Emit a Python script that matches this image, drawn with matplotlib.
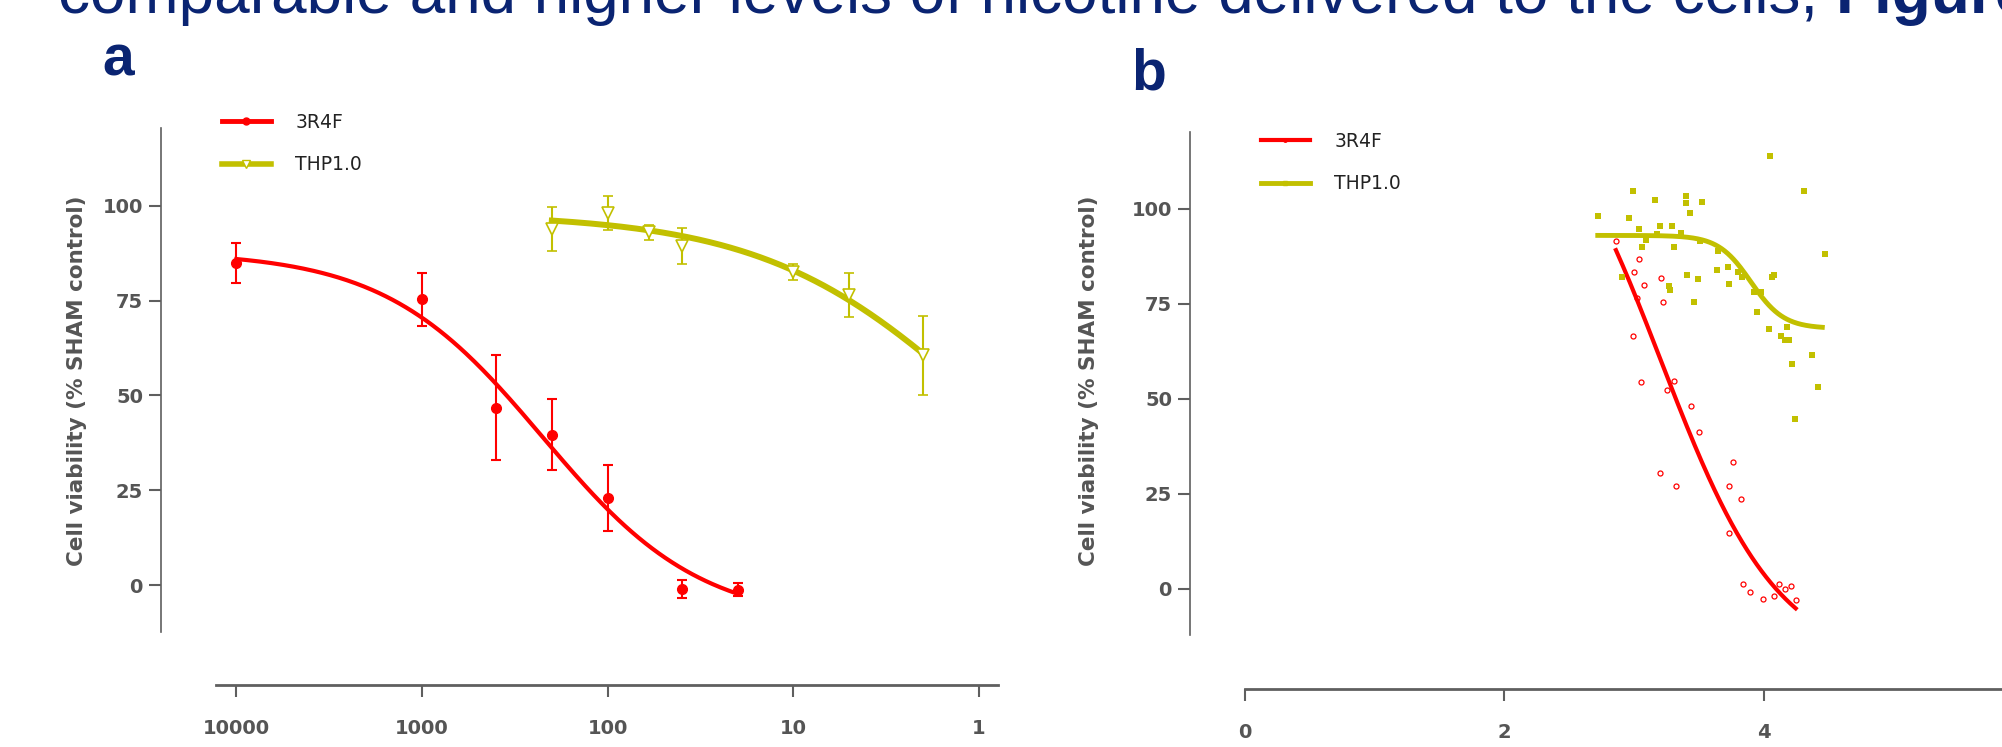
import numpy as np
import matplotlib.pyplot as plt
from matplotlib.lines import Line2D
from matplotlib.ticker import NullLocator

W, H, DPI = 2002, 747, 100
PT = DPI / 72.0

RED = '#ff0000'
OLIVE = '#c2c000'
NAVY = '#0a2472'
GREY = '#5f5f5f'

# panel a: dilution series, mean and SEM
conc_3r4f = [10000, 1000, 400, 200, 100, 40, 20]
via_3r4f = [85.0, 75.4, 46.8, 39.7, 23.0, -1.0, -1.3]
sem_3r4f = [5.2, 7.0, 13.8, 9.4, 8.7, 2.3, 1.7]

conc_thp = [200, 100, 60, 40, 10, 5, 2]
via_thp = [94.0, 98.2, 93.1, 89.4, 82.6, 76.6, 60.6]
sem_thp = [5.8, 4.5, 2.0, 4.7, 2.0, 5.8, 10.5]

# 4PL fits: top, bottom, logEC50, hill
fit_a_3r4f = (88, -10, 2.35, 1.02)
fit_a_thp = (98, 0, 0.011, 0.75)
range_a_3r4f = (20, 10000)
range_a_thp = (2, 200)

# panel b: single replicates
x_3r4f_b = [2.86, 3.04, 3.00, 3.21, 3.08, 3.02, 3.22, 2.99, 3.05, 3.31,
            3.25, 3.44, 3.50, 3.20, 3.32, 3.76, 3.73, 3.82, 3.73, 3.84,
            3.89, 3.99, 4.08, 4.12, 4.16, 4.21, 4.25]
y_3r4f_b = [91.5, 86.7, 83.3, 81.8, 80.0, 76.4, 75.4, 66.4, 54.4, 54.6,
            52.2, 48.0, 41.2, 30.4, 27.1, 33.3, 27.1, 23.7, 14.7, 1.2,
            -1.0, -2.8, -1.9, 1.1, -0.2, 0.8, -3.0]

x_thp_b = [4.05, 4.31, 2.99, 3.16, 3.40, 3.40, 3.52, 3.43, 2.72, 2.96,
           3.04, 3.20, 3.29, 3.36, 3.18, 3.09, 3.51, 3.06, 3.31, 3.65,
           3.64, 3.72, 3.80, 3.83, 3.41, 3.49, 2.91, 3.27, 3.28, 3.73,
           4.06, 4.08, 3.92, 3.98, 3.46, 3.95, 4.04, 4.18, 4.13, 4.16,
           4.19, 4.37, 4.22, 4.42, 4.24, 4.47]
y_thp_b = [113.8, 104.7, 104.6, 102.4, 103.3, 101.4, 101.7, 99.0, 98.0, 97.5,
           94.8, 95.6, 95.4, 93.5, 93.3, 91.9, 91.4, 89.9, 89.9, 88.8,
           83.9, 84.7, 83.3, 82.0, 82.7, 81.6, 82.0, 79.7, 78.5, 80.1,
           82.1, 82.7, 78.0, 78.1, 75.4, 72.8, 68.3, 68.8, 66.4, 65.5,
           65.5, 61.4, 59.1, 53.0, 44.7, 88.0]

fit_b_3r4f = (140, -20, 3.207, -0.955)
fit_b_thp = (93, 68.5, 3.9, -3.45)
range_b_3r4f = (2.86, 4.245)
range_b_thp = (2.72, 4.45)


def logistic(x, top, bottom, ec50, hill):
    return bottom + (top - bottom) / (1 + 10 ** ((ec50 - x) * hill))


def px_axes(fig, left, top, right, bottom):
    return fig.add_axes([left / W, 1 - bottom / H, (right - left) / W, (bottom - top) / H])


def style_axes(ax, x_off, y_off):
    for s in ['top', 'right']:
        ax.spines[s].set_visible(False)
    ax.spines['left'].set_position(('outward', y_off / PT))
    ax.spines['bottom'].set_position(('outward', x_off / PT))
    ax.spines['left'].set_linewidth(1.2)
    ax.spines['bottom'].set_linewidth(2.0)
    ax.spines['left'].set_color(GREY)
    ax.spines['bottom'].set_color(GREY)
    ax.tick_params(axis='y', length=9, width=1.5, color=GREY, pad=4,
                   labelsize=14, labelcolor='#555555')
    ax.tick_params(axis='x', length=8.5, width=1.5, color=GREY, pad=16,
                   labelsize=14, labelcolor='#555555')
    for lab in ax.get_xticklabels() + ax.get_yticklabels():
        lab.set_fontweight('bold')
    ax.set_yticks([0, 25, 50, 75, 100])
    ax.set_facecolor('none')


fig = plt.figure(figsize=(W / DPI, H / DPI), dpi=DPI)

# ---- panel a ----
ax_a = px_axes(fig, 216, 128.3, 998, 632)
ax_a.set_xscale('log')
ax_a.set_xlim(10 ** 4.11, 10 ** -0.102)
ax_a.set_ylim(-12.4, 120.5)

lx = np.linspace(np.log10(range_a_3r4f[0]), np.log10(range_a_3r4f[1]), 300)
ax_a.plot(10 ** lx, logistic(lx, *fit_a_3r4f), color=RED, lw=3, zorder=2)
lx = np.linspace(np.log10(range_a_thp[0]), np.log10(range_a_thp[1]), 300)
ax_a.plot(10 ** lx, logistic(lx, *fit_a_thp), color=OLIVE, lw=4.3, zorder=2)

ax_a.errorbar(conc_3r4f, via_3r4f, yerr=sem_3r4f, fmt='o', color=RED, ms=7,
              elinewidth=1.5, capsize=3.5, capthick=1.5, zorder=3)
ax_a.errorbar(conc_thp, via_thp, yerr=sem_thp, fmt='v', color=OLIVE, mfc='white',
              mec=OLIVE, ms=8, mew=1.2, elinewidth=1.5, capsize=3.5, capthick=1.5, zorder=3)

ax_a.set_xticks([10000, 1000, 100, 10, 1])
ax_a.set_xticklabels(['10000', '1000', '100', '10', '1'])
ax_a.xaxis.set_minor_locator(NullLocator())
style_axes(ax_a, 53.3, 55)

# ---- panel b ----
ax_b = px_axes(fig, 1244.7, 131.7, 2100, 635)
ax_b.set_xlim(0, (2100 - 1244.7) / 129.8)
ax_b.set_ylim(-12.2, 120.3)

xs = np.linspace(*range_b_thp, 300)
ax_b.plot(xs, logistic(xs, *fit_b_thp), color=OLIVE, lw=3.5, zorder=2)
xs = np.linspace(*range_b_3r4f, 300)
ax_b.plot(xs, logistic(xs, *fit_b_3r4f), color=RED, lw=3, zorder=2)

ax_b.plot(x_thp_b, y_thp_b, 's', color=OLIVE, ms=4, mew=0, zorder=3)
ax_b.plot(x_3r4f_b, y_3r4f_b, 'o', mfc='none', mec=RED, ms=3.6, mew=0.9, zorder=3)

ax_b.set_xticks([0, 2, 4])
style_axes(ax_b, 53.7, 54.7)

# y labels
for xpx in [77, 1089]:
    fig.text(xpx / W, 1 - 381 / H, 'Cell viability (% SHAM control)', rotation=90,
             ha='center', va='center', fontsize=15.5, fontweight='bold', color='#555555')

# legends
leg_font = {'family': 'DejaVu Sans', 'size': 13.5}
h_a = [Line2D([], [], color=RED, lw=3.5, marker='o', ms=5),
       Line2D([], [], color=OLIVE, lw=4, marker='v', ms=6, mfc='white', mec=OLIVE)]
leg = fig.legend(h_a, ['3R4F', 'THP1.0'], loc='upper left',
                 bbox_to_anchor=(222 / W, 1 - 113 / H), frameon=False, prop=leg_font,
                 handlelength=2.6, handletextpad=1.3, labelspacing=1.25,
                 borderpad=0, borderaxespad=0)
for t in leg.get_texts():
    t.set_color('#222222')

h_b = [Line2D([], [], color=RED, lw=3, marker='o', ms=2.5),
       Line2D([], [], color=OLIVE, lw=3.5, marker='s', ms=2.5)]
leg = fig.legend(h_b, ['3R4F', 'THP1.0'], loc='upper left',
                 bbox_to_anchor=(1261 / W, 1 - 132 / H), frameon=False, prop=leg_font,
                 handlelength=2.6, handletextpad=1.3, labelspacing=1.25,
                 borderpad=0, borderaxespad=0)
for t in leg.get_texts():
    t.set_color('#222222')

# panel letters
fig.text(102 / W, 1 - 76 / H, 'a', fontsize=41, fontweight='bold', color=NAVY,
         family='Liberation Sans', ha='left', va='baseline')
fig.text(1131 / W, 1 - 90 / H, 'b', fontsize=41, fontweight='bold', color=NAVY,
         family='Liberation Sans', ha='left', va='baseline')

# slide text cut at the top
head = fig.text(58 / W, 1 - 13 / H,
                'comparable and higher levels of nicotine delivered to the cells,',
                fontsize=46, color=NAVY, family='Liberation Sans', ha='left', va='baseline')
fig.canvas.draw()
bb = head.get_window_extent()
fig.text((bb.x1 + 0.278 * 46 * PT) / W, 1 - 13 / H, 'Figure', fontsize=46,
         fontweight='bold', color=NAVY, family='Liberation Sans', ha='left', va='baseline')

fig.savefig('out.png', dpi=DPI)
